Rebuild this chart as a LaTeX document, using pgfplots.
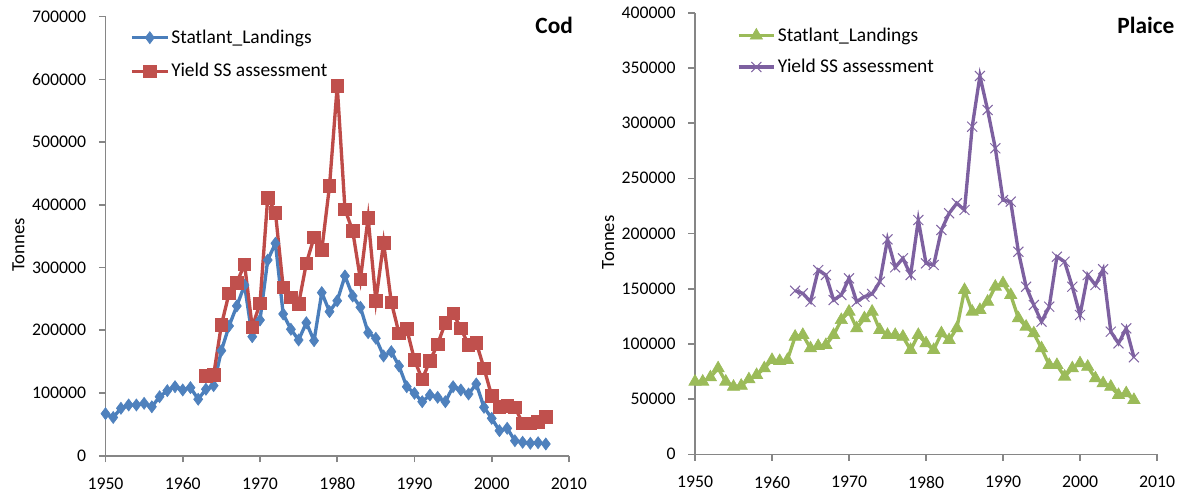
\documentclass[border=0pt]{standalone}
\usepackage{fontspec}
\setmainfont{Carlito}
\usepackage{pgfplots}
\usepackage{pgfplotstable}
\pgfplotsset{compat=1.18}
\definecolor{codblue}{HTML}{4A7EBB}
\definecolor{codbluem}{HTML}{4F81BD}
\definecolor{codred}{HTML}{BE4B48}
\definecolor{codredm}{HTML}{C0504D}
\definecolor{plgreen}{HTML}{9BBB59}
\definecolor{plpurple}{HTML}{7D60A0}
\definecolor{plpurplem}{HTML}{8064A2}
\definecolor{axgray}{HTML}{868686}

\pgfplotstableread{
year val
1950 67000
1951 61000
1952 75600
1953 80900
1954 80900
1955 83500
1956 78000
1957 94000
1958 103700
1959 110000
1960 104800
1961 108500
1962 90000
1963 106000
1964 111700
1965 167500
1966 206900
1967 238800
1968 272000
1969 189800
1970 216400
1971 312000
1972 338700
1973 226000
1974 201600
1975 184500
1976 212000
1977 183400
1978 260000
1979 229700
1980 247000
1981 286600
1982 254700
1983 236700
1984 196200
1985 187200
1986 159000
1987 165900
1988 143000
1989 110000
1990 99500
1991 86100
1992 96800
1993 93100
1994 86100
1995 110000
1996 104800
1997 98400
1998 114400
1999 77200
2000 59600
2001 39900
2002 43700
2003 23900
2004 21400
2005 19800
2006 20700
2007 18700
}\codland

\pgfplotstableread{
year val
1963 127600
1964 128700
1965 208500
1966 259000
1967 276000
1968 305300
1969 204800
1970 243000
1971 411500
1972 387600
1973 268600
1974 252600
1975 242000
1976 306800
1977 348300
1978 328100
1979 430100
1980 589600
1981 393000
1982 358400
1983 281300
1984 379600
1985 247200
1986 339700
1987 244600
1988 195200
1989 202100
1990 152600
1991 121800
1992 151500
1993 177700
1994 212100
1995 227100
1996 203200
1997 176600
1998 180200
1999 139400
2000 95200
2001 78100
2002 79700
2003 77200
2004 51700
2005 51700
2006 54200
2007 62200
}\codyield

\pgfplotstableread{
year val
1950 65800
1951 65800
1952 69700
1953 77900
1954 65800
1955 61200
1956 62100
1957 67900
1958 71800
1959 77900
1960 85400
1961 84500
1962 85400
1963 106500
1964 108100
1965 96000
1966 98100
1967 99000
1968 108100
1969 121600
1970 129200
1971 114100
1972 123200
1973 129200
1974 112600
1975 108100
1976 108100
1977 106500
1978 94500
1979 108100
1980 100500
1981 94500
1982 109600
1983 103500
1984 114100
1985 148800
1986 129200
1987 130700
1988 138200
1989 151800
1990 154900
1991 144300
1992 123200
1993 115600
1994 109600
1995 96000
1996 80900
1997 80900
1998 70300
1999 77900
2000 82400
2001 79300
2002 68800
2003 64300
2004 61200
2005 53700
2006 55300
2007 49200
}\plland

\pgfplotstableread{
year val
1963 148200
1964 145800
1965 138200
1966 166900
1967 162400
1968 139800
1969 144300
1970 159400
1971 138200
1972 142800
1973 145200
1974 156300
1975 194700
1976 169400
1977 177500
1978 162400
1979 212200
1980 173000
1981 171500
1982 203200
1983 218300
1984 227400
1985 221300
1986 296700
1987 342700
1988 311900
1989 277200
1990 230300
1991 228800
1992 183500
1993 151800
1994 135200
1995 120100
1996 133700
1997 179000
1998 174500
1999 151800
2000 126200
2001 162400
2002 153300
2003 167600
2004 111100
2005 100500
2006 114100
2007 87900
}\plyield

\pgfplotsset{
  excel/.style={
    scale only axis,
    axis x line*=bottom, axis y line*=left,
    axis line style={axgray, line width=1.2pt},
    tick style={axgray, line width=1.2pt},
    tick align=outside,
    major tick length=5pt,
    xmin=1950, xmax=2010, xtick={1950,1960,...,2010},
    ymin=0,
    scaled y ticks=false,
    /pgf/number format/assume math mode=true,
    /pgf/number format/1000 sep={},
    /pgf/number format/fixed,
    ticklabel style={font=\fontsize{13.3}{15}\selectfont, text=black},
    xticklabel style={yshift=-8pt},
    yticklabel style={xshift=-6pt},
    ylabel={Tonnes},
    ylabel style={font=\fontsize{14}{16}\selectfont, at={(axis description cs:-0.188,0.48)}, anchor=center},
    legend style={draw=none, fill=none, font=\fontsize{14.6}{17}\selectfont, row sep=10.5pt, inner sep=0pt, nodes={inner sep=1.5pt}, cells={anchor=west}},
    legend image code/.code={\draw[mark repeat=2, mark phase=2] plot coordinates {(0cm,0cm) (0.47cm,0cm) (0.94cm,0cm)};},
    clip=false,
  }
}

\begin{document}
\begin{tikzpicture}
\useasboundingbox (0,0) rectangle (885.75pt,372pt);
\begin{axis}[excel,
  at={(79.125pt,30.225pt)}, anchor=south west,
  width=347.6pt, height=329.25pt,
  ymax=700000, ytick={0,100000,...,700000},
  legend style={at={(0.053,0.975)}, anchor=north west},
]
\addplot[codblue, line width=2.5pt, mark=diamond*, mark size=4.5pt, mark options={codbluem, line width=0.5pt}] table[x=year,y=val] {\codland};
\addlegendentry{Statlant\_Landings}
\addplot[codred, line width=2.5pt, mark=square*, mark size=4.7pt, mark options={codredm, line width=0.5pt}] table[x=year,y=val] {\codyield};
\addlegendentry{Yield SS assessment}
\node[font=\bfseries\fontsize{17.5}{20}\selectfont] at (rel axis cs:0.968,0.981) {Cod};
\end{axis}

\begin{axis}[excel,
  at={(521.25pt,31.275pt)}, anchor=south west,
  width=346.5pt, height=331.2pt,
  ymax=400000, ytick={0,50000,...,400000},
  legend style={at={(0.090,0.971)}, anchor=north west, row sep=9pt},
]
\addplot[plgreen, line width=2.5pt, mark=triangle*, mark size=5.3pt, mark options={plgreen, line width=0.5pt}] table[x=year,y=val] {\plland};
\addlegendentry{Statlant\_Landings}
\addplot[plpurple, line width=2.5pt, mark=x, mark size=5.3pt, mark options={plpurplem, line width=0.75pt}] table[x=year,y=val] {\plyield};
\addlegendentry{Yield SS assessment}
\node[font=\bfseries\fontsize{17.5}{20}\selectfont] at (rel axis cs:0.976,0.972) {Plaice};
\end{axis}
\end{tikzpicture}
\end{document}
